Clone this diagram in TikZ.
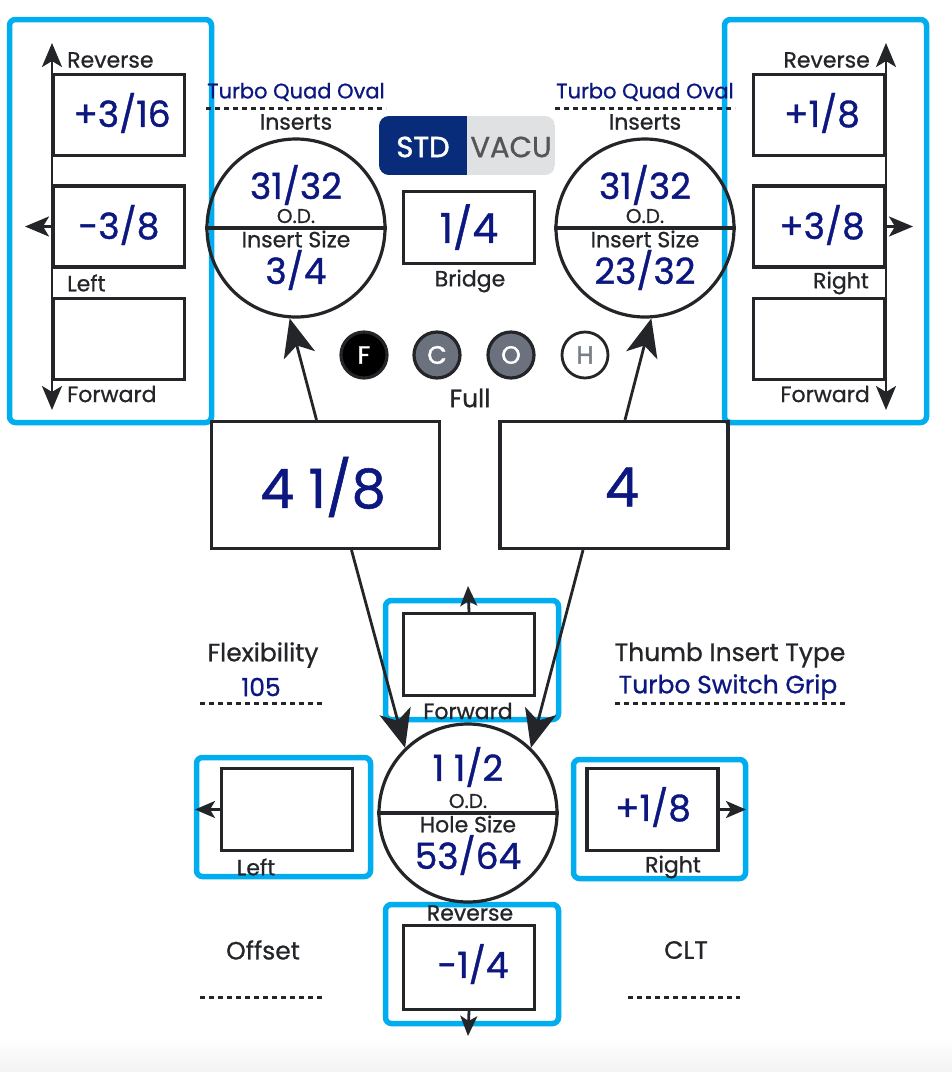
\documentclass[tikz,border=0pt]{standalone}
\usepackage{fontspec}
\setmainfont{Poppins}
\newfontfamily\lblfont{Poppins}[FakeBold=0.8]
\newfontfamily\numfont{Poppins}[FakeBold=1.0]
\newfontfamily\stdfont{Poppins}[FakeBold=1.6]
\usetikzlibrary{arrows.meta,calc}
\definecolor{navy}{RGB}{12,24,128}
\definecolor{ink}{RGB}{35,37,41}
\definecolor{cyanf}{RGB}{0,174,239}
\definecolor{stdblue}{RGB}{8,44,122}
\definecolor{vacgray}{RGB}{224,225,227}
\definecolor{vactext}{RGB}{85,85,88}
\definecolor{midgray}{RGB}{107,114,125}
\definecolor{hgray}{RGB}{120,126,136}
\begin{document}
\begin{tikzpicture}[x=1pt,y=-1pt,
  frame/.style={draw=cyanf, line width=5.5pt, rounded corners=6pt, inner sep=0pt},
  box/.style={draw=ink, line width=3.2pt, minimum width=131pt, minimum height=81pt, inner sep=0pt},
  bigbox/.style={draw=ink, line width=3.2pt, minimum width=228pt, minimum height=127pt, inner sep=0pt},
  ring/.style={draw=ink, line width=3.2pt, circle, minimum size=178pt, inner sep=0pt},
  num/.style={text=navy, inner sep=0pt, font=\numfont\fontsize{36}{36}\selectfont},
  bignum/.style={text=navy, inner sep=0pt, font=\numfont\fontsize{54}{54}\selectfont},
  lbl/.style={text=ink, inner sep=0pt, font=\lblfont\fontsize{22}{22}\selectfont},
  info/.style={text=ink, inner sep=0pt, font=\lblfont\fontsize{25}{25}\selectfont},
  sml/.style={text=ink, inner sep=0pt, font=\lblfont\fontsize{20}{20}\selectfont},
  blbl/.style={text=navy, inner sep=0pt, font=\lblfont\fontsize{21}{21}\selectfont},
  binfo/.style={text=navy, inner sep=0pt, font=\lblfont\fontsize{25}{25}\selectfont},
  dashline/.style={draw=ink, line width=3pt, dash pattern=on 5pt off 4pt},
  bigarr/.style={draw=ink, line width=2.8pt, -{Stealth[length=38pt,width=32pt,inset=10pt]}},
  sidearr/.style={draw=ink, line width=2.8pt, {Stealth[length=24pt,width=20pt,inset=6pt]}-{Stealth[length=24pt,width=20pt,inset=6pt]}},
  onearr/.style={draw=ink, line width=2.8pt, -{Stealth[length=24pt,width=20pt,inset=6pt]}},
  smarr/.style={draw=ink, line width=2.8pt, -{Stealth[length=20pt,width=17pt,inset=5pt]}},
  dot/.style={circle, minimum size=46pt, inner sep=0pt, line width=3.2pt, font=\stdfont\fontsize{25}{25}\selectfont}
]
\useasboundingbox (0,0) rectangle (952,1072);
\fill[white] (0,0) rectangle (952,1072);
\shade[top color=white, bottom color=black!5] (0,1038) rectangle (952,1072);

% ---------- top-left panel ----------
\node[frame, minimum width=202pt, minimum height=403pt] (fl) at (110.5,221) {};
\node[box] (tl1) at (119,115) {};
\node[box] (tl2) at (119,226.5) {};
\node[box] (tl3) at (119,339) {};
\node[num] at (122,113) {+3/16};
\node[num] at (119,225) {-3/8};
\coordinate (tlrev) at (52,43);
\coordinate (tlfwd) at (52,410);
\coordinate (tlleft) at (25,226.5);
\draw[sidearr] (tlrev) -- (tlfwd);
\draw[onearr] (tl2.west) -- (tlleft);
\node[lbl, anchor=west] (tlrevl) at (67,60) {Reverse};
\node[lbl, anchor=west] (tlleftl) at (67,283) {Left};
\node[lbl, anchor=west] (tlfwdl) at (67,394) {Forward};

% ---------- top-right panel ----------
\node[frame, minimum width=202pt, minimum height=403pt] (fr) at (825.5,221) {};
\node[box] (tr1) at (819,115) {};
\node[box] (tr2) at (819,226.5) {};
\node[box] (tr3) at (819,339) {};
\node[num] at (822,113) {+1/8};
\node[num] at (822,225) {+3/8};
\coordinate (trrev) at (886,43);
\coordinate (trfwd) at (886,410);
\coordinate (trright) at (913,226.5);
\draw[sidearr] (trrev) -- (trfwd);
\draw[onearr] (tr2.east) -- (trright);
\node[lbl, anchor=east] (trrevl) at (870,60) {Reverse};
\node[lbl] (trrightl) at (841,283) {Right};
\node[lbl, anchor=east] (trfwdl) at (870,394) {Forward};

% ---------- insert circles ----------
\node[blbl] (tq1) at (296,92) {Turbo Quad Oval};
\draw[dashline] (206,108) -- (386,108);
\node[lbl] (ins1) at (296,122) {Inserts};
\node[ring] (lc) at (296,228) {};
\draw[ink, line width=3.2pt] (lc.west) -- (lc.east);
\node[num] at (296,185) {31/32};
\node[sml] at (296,216) {O.D.};
\node[lbl] at (296,239) {Insert Size};
\node[num] at (296,270) {3/4};

\node[blbl] (tq2) at (645,92) {Turbo Quad Oval};
\draw[dashline] (555,108) -- (735,108);
\node[lbl] (ins2) at (645,122) {Inserts};
\node[ring] (rc) at (645,228) {};
\draw[ink, line width=3.2pt] (rc.west) -- (rc.east);
\node[num] at (645,185) {31/32};
\node[sml] at (645,216) {O.D.};
\node[lbl] at (645,239) {Insert Size};
\node[num] at (645,270) {23/32};

% ---------- STD / VACU toggle ----------
\begin{scope}
\clip[rounded corners=10pt] (379,116) rectangle (555,175);
\fill[vacgray] (379,116) rectangle (555,175);
\fill[stdblue] (379,116) rectangle (467,175);
\end{scope}
\node[text=white, inner sep=0pt, font=\stdfont\fontsize{29}{29}\selectfont] (std) at (423,147) {STD};
\node[text=vactext, inner sep=0pt, font=\numfont\fontsize{29}{29}\selectfont] (vacu) at (511,147) {VACU};

% ---------- bridge ----------
\node[box, minimum height=72pt] (br) at (469,227.5) {};
\node[num, font=\numfont\fontsize{41}{41}\selectfont] at (469,227) {1/4};
\node[lbl] (bridge) at (470,281) {Bridge};

% ---------- F C O H ----------
\node[dot, fill=black, draw=ink, text=white] (dF) at (364,355) {F};
\node[dot, fill=midgray, draw=ink, text=white] (dC) at (437,355) {C};
\node[dot, fill=midgray, draw=ink, text=white] (dO) at (511,355) {O};
\node[dot, fill=white, draw=ink, text=hgray, line width=2.8pt] (dH) at (585,355) {H};
\node[info] (full) at (470,398) {Full};

% ---------- big boxes ----------
\node[bigbox] (bl) at (325.5,485) {};
\node[bignum] at (323,487) {4 1/8};
\node[bigbox] (bR) at (614,485) {};
\node[bignum] at (622,487) {4};

\draw[bigarr] ([xshift=-9pt]bl.north) -- (lc.266);
\draw[bigarr] ([xshift=11pt]bR.north) -- (rc.274);

% ---------- bottom frames ----------
\node[frame, minimum width=173pt, minimum height=119pt] (ff) at (472,660) {};
\node[frame, minimum width=174pt, minimum height=119pt] (lf) at (283.5,817) {};
\node[frame, minimum width=172pt, minimum height=119pt] (rf) at (659.5,819) {};
\node[frame, minimum width=173pt, minimum height=119pt] (vf) at (472,964) {};

% ---------- bottom circle ----------
\node[ring] (hc) at (468,813) {};
\draw[ink, line width=3.2pt] (hc.west) -- (hc.east);
\node[num] at (468,767) {1 1/2};
\node[sml] at (468,801) {O.D.};
\node[lbl] at (468,824) {Hole Size};
\node[num] at (468,855) {53/64};

\draw[bigarr] ([xshift=26pt]bl.south) -- (hc.134);
\draw[bigarr] ([xshift=-31pt]bR.south) -- (hc.46);

% ---------- bottom forward ----------
\node[box, minimum height=82pt] (fb) at (469,654.5) {};
\coordinate (fbup) at (468,586);
\draw[smarr] (fb.north) -- (fbup);
\node[lbl] (fbl) at (468,711) {Forward};

% ---------- bottom left ----------
\node[box, minimum height=82pt] (lb) at (287,809.5) {};
\coordinate (lbleft) at (195,809.5);
\draw[smarr] (lb.west) -- (lbleft);
\node[lbl] (lbl) at (256,867) {Left};

% ---------- bottom right ----------
\node[box, minimum height=82pt] (rb) at (652.5,809.5) {};
\node[num] at (653,807) {+1/8};
\coordinate (rbright) at (746,809.5);
\draw[smarr] (rb.east) -- (rbright);
\node[lbl] (rbl) at (673,867) {Right};

% ---------- bottom reverse ----------
\node[box, minimum height=84pt] (vb) at (469,967.5) {};
\node[num] at (473,964) {-1/4};
\coordinate (vbdown) at (468,1036);
\draw[smarr] (vb.south) -- (vbdown);
\node[lbl] (vbl) at (470,913) {Reverse};

% ---------- side info ----------
\node[info] (flex) at (263,655) {Flexibility};
\node[binfo] (flexv) at (261,687) {105};
\draw[dashline] (200,703) -- (325,703);
\node[info] (thumb) at (730,655) {Thumb Insert Type};
\node[binfo] (thumbv) at (728,687) {Turbo Switch Grip};
\draw[dashline] (615,703) -- (847,703);
\node[info] (offset) at (263,950) {Offset};
\draw[dashline] (200,997) -- (325,997);
\node[info] (clt) at (686,950) {CLT};
\draw[dashline] (628,997) -- (740,997);
\end{tikzpicture}
\end{document}
